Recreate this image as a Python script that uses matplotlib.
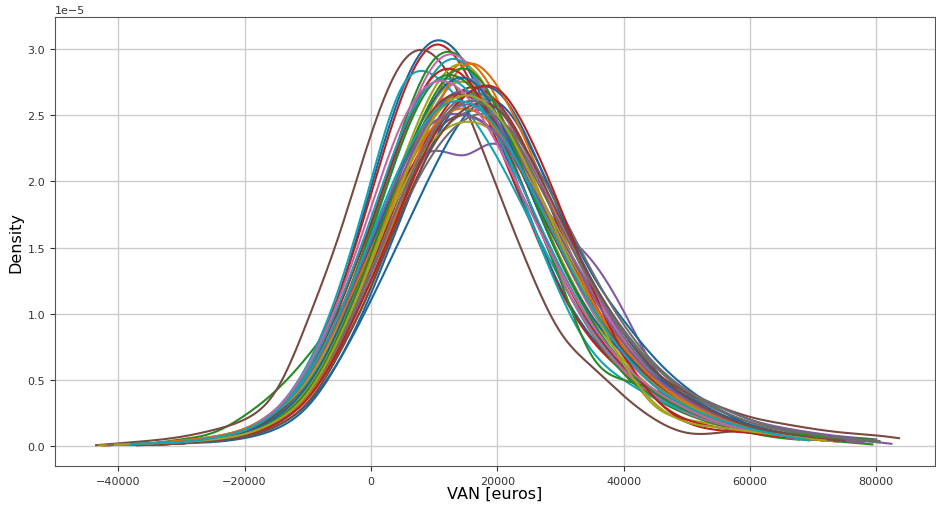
import numpy as np
import matplotlib
matplotlib.use("Agg")
import matplotlib.pyplot as plt
from matplotlib.colors import to_rgb

# Evaluation grid of the density curves (euros)
x_grid = [-45000, -40000, -35000, -30000, -25000, -20000, -15000, -10000, -5000, 0,
          5000, 10000, 15000, 20000, 25000, 30000, 35000, 40000, 45000, 50000,
          55000, 60000, 65000, 70000, 75000, 80000, 85000]

# Density values, in units of 1e-5
curves = [
    [0,.01,.02,.03,.05,.1,.25,.58,1.15,1.95,2.7,3.06,2.88,2.35,1.75,1.2,.82,.56,.38,.26,.17,.11,.07,.04,.02,.01,0],
    [0,.01,.02,.03,.05,.09,.2,.42,.82,1.35,1.98,2.6,2.9,2.62,2.1,1.55,1.05,.7,.46,.3,.2,.13,.08,.05,.03,.02,.01],
    [0,.01,.02,.05,.1,.23,.42,.68,1.02,1.48,2.0,2.5,2.68,2.45,1.95,1.42,.95,.55,.38,.28,.18,.12,.08,.05,.03,.01,0],
    [0,.01,.02,.03,.05,.11,.26,.6,1.15,1.9,2.65,3.03,2.82,2.3,1.72,1.18,.8,.56,.38,.26,.18,.12,.08,.05,.03,.01,0],
    [0,.01,.02,.04,.07,.13,.28,.55,.95,1.45,2.0,2.23,2.2,2.28,1.98,1.65,1.4,1.02,.58,.32,.2,.14,.1,.07,.05,.03,0],
    [0,.02,.04,.07,.12,.2,.42,.95,1.6,2.35,2.9,2.95,2.55,1.95,1.35,.86,.6,.38,.2,.1,.1,.12,.1,.07,.04,.02,0],
    [0,.01,.02,.03,.05,.09,.2,.42,.85,1.42,2.02,2.55,2.78,2.55,2.02,1.48,1.02,.68,.45,.3,.2,.13,.08,.05,.03,.01,0],
    [0,.01,.02,.03,.05,.1,.2,.4,.8,1.3,1.85,2.3,2.52,2.48,2.15,1.7,1.25,.88,.6,.4,.27,.18,.12,.08,.05,.03,.01],
    [0,.01,.02,.03,.05,.1,.22,.45,.9,1.45,2.02,2.6,2.75,2.55,1.98,1.5,1.05,.62,.3,.2,.16,.12,.08,.05,.03,.01,0],
    [0,.01,.02,.03,.06,.12,.28,.62,1.2,2.0,2.72,2.8,2.55,2.18,1.72,1.26,.88,.58,.38,.25,.17,.11,.07,.04,.03,.01,0],
    [0,.01,.01,.02,.04,.07,.15,.32,.65,1.1,1.6,2.1,2.5,2.6,2.28,1.78,1.3,.95,.66,.44,.28,.16,.1,.06,.04,.02,.01],
    [0,.01,.02,.03,.05,.1,.21,.43,.86,1.42,2.0,2.48,2.68,2.5,2.05,1.55,1.1,.74,.48,.32,.21,.14,.09,.06,.04,.02,.01],
    [0,.01,.02,.03,.05,.1,.22,.48,.98,1.65,2.4,2.92,2.9,2.45,1.85,1.28,.85,.55,.36,.24,.16,.1,.06,.04,.02,.01,0],
    [0,.01,.02,.03,.05,.09,.19,.4,.8,1.35,1.95,2.42,2.7,2.6,2.2,1.62,1.12,.68,.36,.18,.12,.1,.08,.05,.03,.01,0],
    [0,.01,.02,.03,.05,.1,.22,.46,.9,1.48,2.05,2.52,2.68,2.45,1.98,1.5,1.08,.75,.5,.34,.23,.15,.1,.06,.04,.02,.01],
    [0,.01,.01,.02,.04,.08,.17,.36,.72,1.2,1.85,2.35,2.5,2.35,2.0,1.55,1.1,.78,.56,.4,.3,.22,.17,.13,.1,.08,.05],
    [0,.01,.02,.03,.05,.1,.23,.5,.98,1.62,2.35,2.88,2.9,2.45,1.85,1.28,.86,.57,.38,.25,.17,.11,.07,.04,.02,.01,0],
    [0,.01,.02,.03,.04,.08,.18,.38,.78,1.3,1.9,2.4,2.65,2.58,2.18,1.68,1.2,.82,.54,.36,.24,.16,.1,.06,.04,.02,.01],
    [0,.01,.02,.03,.05,.09,.2,.44,.88,1.5,2.15,2.7,2.88,2.55,1.98,1.42,.98,.65,.42,.28,.18,.12,.08,.05,.03,.01,0],
    [0,.01,.02,.03,.05,.1,.22,.48,.96,1.6,2.3,2.82,2.88,2.4,1.75,1.15,.72,.5,.36,.26,.18,.12,.08,.05,.03,.01,0],
    [0,0,.01,.02,.03,.06,.13,.3,.65,1.15,1.75,2.3,2.65,2.68,2.3,1.75,1.25,.85,.56,.36,.24,.16,.1,.06,.04,.02,.01],
    [0,.01,.01,.02,.04,.08,.17,.37,.75,1.25,1.88,2.5,2.88,2.72,2.25,1.65,1.1,.72,.45,.29,.19,.12,.08,.05,.03,.01,0],
    [0,.01,.02,.03,.05,.1,.24,.52,1.0,1.62,2.3,2.75,2.75,2.4,1.85,1.25,.68,.5,.42,.3,.2,.13,.08,.05,.03,.01,0],
    [0,.01,.02,.03,.06,.12,.26,.55,1.05,1.68,2.35,2.8,2.78,2.38,1.85,1.32,.9,.6,.4,.27,.18,.12,.08,.05,.03,.01,0],
    [0,.01,.01,.02,.04,.08,.18,.4,.8,1.32,1.9,2.38,2.58,2.45,2.05,1.6,1.18,.85,.6,.42,.3,.2,.14,.1,.07,.05,.02],
    [0,.01,.02,.03,.06,.11,.24,.5,.95,1.52,2.1,2.55,2.65,2.42,1.95,1.48,1.05,.72,.48,.32,.21,.14,.09,.06,.04,.02,.01],
    [0,.01,.02,.03,.05,.09,.19,.4,.8,1.32,1.9,2.38,2.6,2.55,2.18,1.7,1.2,.8,.52,.34,.22,.14,.09,.05,.03,.01,0],
    [0,.01,.02,.03,.05,.09,.2,.4,.78,1.25,1.78,2.22,2.47,2.48,2.2,1.78,1.32,.92,.62,.42,.28,.18,.12,.08,.05,.03,.01],
    [0,.01,.02,.04,.07,.13,.26,.5,.92,1.42,1.95,2.32,2.45,2.35,2.02,1.6,1.15,.78,.5,.32,.2,.13,.08,.05,.03,.01,0],
    [0,.01,.02,.03,.06,.12,.27,.57,1.08,1.72,2.38,2.75,2.7,2.35,1.85,1.35,.92,.62,.4,.27,.18,.12,.08,.05,.03,.01,0],
    [0,.01,.02,.03,.05,.1,.22,.46,.9,1.5,2.12,2.62,2.78,2.5,1.95,1.4,.98,.7,.52,.38,.25,.16,.1,.06,.03,.01,0],
    [0,.01,.02,.04,.07,.13,.27,.52,.95,1.48,2.02,2.42,2.55,2.38,1.98,1.52,1.1,.75,.5,.33,.22,.14,.09,.06,.04,.02,.01],
    [0,.01,.02,.03,.05,.09,.2,.42,.85,1.45,2.1,2.65,2.85,2.55,1.98,1.4,.95,.62,.4,.27,.18,.13,.1,.08,.06,.05,.03],
    [0,.01,.01,.02,.04,.08,.17,.36,.74,1.25,1.82,2.35,2.65,2.7,2.35,1.8,1.2,.7,.36,.2,.14,.1,.07,.05,.03,.01,0],
    [0,.01,.02,.03,.06,.12,.26,.53,.98,1.55,2.1,2.45,2.5,2.35,2.0,1.58,1.15,.78,.52,.35,.23,.15,.1,.06,.04,.02,.01],
    [0,.01,.01,.02,.04,.07,.15,.33,.7,1.2,1.78,2.28,2.55,2.55,2.2,1.72,1.25,.86,.57,.37,.24,.15,.1,.06,.04,.02,.01],
    [0,.01,.02,.03,.06,.12,.28,.6,1.12,1.8,2.45,2.75,2.65,2.28,1.8,1.32,.92,.62,.42,.28,.18,.12,.08,.05,.03,.01,0],
    [0,.01,.02,.03,.05,.09,.19,.4,.8,1.32,1.9,2.38,2.6,2.5,2.12,1.66,1.22,.86,.6,.42,.3,.2,.13,.09,.06,.04,.02],
    [0,.01,.02,.03,.05,.09,.19,.4,.82,1.38,2.0,2.48,2.65,2.5,2.08,1.55,1.05,.62,.32,.18,.14,.11,.08,.05,.03,.01,0],
    [0,.01,.02,.03,.06,.12,.26,.54,1.0,1.58,2.15,2.52,2.6,2.4,1.98,1.5,1.05,.7,.45,.3,.2,.13,.08,.04,.02,.01,0],
]

# Horizontal extent of each curve (euros)
curve_start = [-40000, -41000, -39000, -40500, -42000, -43500, -39500, -41500, -41000, -38500,
               -37500, -40000, -39000, -41000, -40500, -42500, -39000, -38000, -41500, -38000,
               -37000, -38500, -40000, -41000, -42000, -42500, -39500, -41000, -43000, -39000,
               -38500, -42000, -40000, -37500, -41000, -39500, -40000, -41500, -40500, -38000]
curve_end = [69000, 74000, 66000, 72000, 82400, 61000, 71000, 77000, 73000, 69400,
             76000, 75000, 67800, 70000, 76000, 83600, 68000, 74000, 72000, 70000,
             75000, 71000, 79400, 70500, 80000, 76000, 72000, 80500, 73000, 70000,
             68000, 77000, 79400, 71000, 78000, 75000, 69000, 80500, 72000, 69400]

density_scale = 1e-5


def natural_spline(xk, yk, xs):
    xk = np.asarray(xk, float)
    yk = np.asarray(yk, float)
    n = len(xk)
    h = np.diff(xk)
    A = np.zeros((n, n))
    r = np.zeros(n)
    A[0, 0] = 1
    A[-1, -1] = 1
    for i in range(1, n - 1):
        A[i, i - 1] = h[i - 1]
        A[i, i] = 2 * (h[i - 1] + h[i])
        A[i, i + 1] = h[i]
        r[i] = 6 * ((yk[i + 1] - yk[i]) / h[i] - (yk[i] - yk[i - 1]) / h[i - 1])
    M = np.linalg.solve(A, r)
    idx = np.clip(np.searchsorted(xk, xs) - 1, 0, n - 2)
    x0, x1 = xk[idx], xk[idx + 1]
    hh = h[idx]
    a = (x1 - xs) / hh
    b = (xs - x0) / hh
    return (a * yk[idx] + b * yk[idx + 1]
            + ((a**3 - a) * M[idx] + (b**3 - b) * M[idx + 1]) * hh**2 / 6)


fig = plt.figure(figsize=(9.37, 5.06), dpi=100)
ax = fig.add_axes([0.0587, 0.0771, 0.9392, 0.8873])

base_colors = plt.rcParams['axes.prop_cycle'].by_key()['color']
colors = [tuple(c * 0.86 for c in to_rgb(bc)) for bc in base_colors]
for i, vals in enumerate(curves):
    xs = np.linspace(curve_start[i], curve_end[i], 700)
    ys = np.clip(natural_spline(x_grid, vals, xs), 0.0005, None) * density_scale
    ax.plot(xs, ys, color=colors[i % len(colors)], lw=1.5)

ax.set_xlim(-50000, 89300)
ax.set_ylim(-0.151e-5, 3.242e-5)
ax.set_xticks([-40000, -20000, 0, 20000, 40000, 60000, 80000])
ax.set_yticks([0, 0.5e-5, 1.0e-5, 1.5e-5, 2.0e-5, 2.5e-5, 3.0e-5])
ax.grid(True, color='#cccccc', lw=1)
ax.set_axisbelow(True)
ax.tick_params(labelsize=8, colors='#333333', length=3.5)
ax.yaxis.get_offset_text().set_fontsize(8)
for s in ax.spines.values():
    s.set_color('#555555')
ax.set_xlabel('VAN [euros]', fontsize=11.5, labelpad=0)
ax.set_ylabel('Density', fontsize=11.5, labelpad=3)

fig.savefig('out.png', dpi=100)
